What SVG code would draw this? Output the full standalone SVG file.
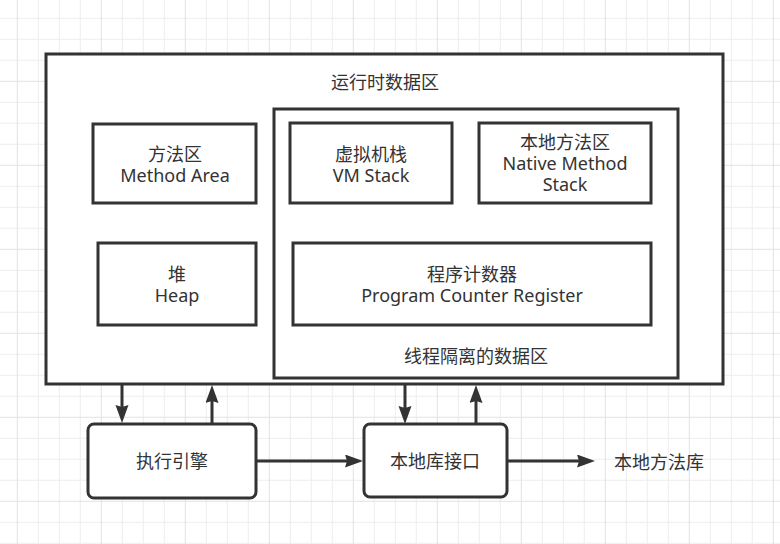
<svg xmlns="http://www.w3.org/2000/svg" width="780" height="544" viewBox="0 0 780 544">
<style>
.box{fill:#fff;stroke:#333;stroke-width:3}
.rbox{fill:#fff;stroke:#333;stroke-width:3}
.t{font-family:"Noto Sans","Noto Sans CJK SC",sans-serif;font-size:18px;fill:#333;text-anchor:middle}
.s{font-family:"Noto Sans","Noto Sans CJK SC",sans-serif;font-size:18px;fill:#333;text-anchor:start}
.c{fill:none;stroke:#333;stroke-width:3;marker-end:url(#ah)}
</style>
<defs>
<pattern id="grid" patternUnits="userSpaceOnUse" x="16.8" y="80.8" width="84" height="84">
<rect x="0" y="0" width="84" height="84" fill="#fff"/>
<rect x="21" y="0" width="1" height="84" fill="#ededed"/>
<rect x="42" y="0" width="1" height="84" fill="#ededed"/>
<rect x="63" y="0" width="1" height="84" fill="#ededed"/>
<rect x="0" y="21" width="84" height="1" fill="#ededed"/>
<rect x="0" y="42" width="84" height="1" fill="#ededed"/>
<rect x="0" y="63" width="84" height="1" fill="#ededed"/>
<rect x="0" y="0" width="1" height="84" fill="#e2e2e2"/>
<rect x="0" y="0" width="84" height="1" fill="#e2e2e2"/>
</pattern>
<marker id="ah" markerUnits="userSpaceOnUse" markerWidth="20" markerHeight="14" refX="2" refY="6.5" orient="auto">
<path d="M0,0 L18,6.5 L0,13 L2,6.5 Z" fill="#333"/>
</marker>
</defs>
<rect x="0" y="0" width="780" height="544" fill="url(#grid)"/>

<g id="runtime-data-area">
<rect class="box" x="46" y="54" width="677" height="330"/>
<text class="t" x="385" y="89">运行时数据区</text>
</g>
<g id="method-area">
<rect class="box" x="93" y="124" width="163" height="79"/>
<text class="t" x="175" y="161">方法区</text>
<text class="t" x="175" y="182">Method Area</text>
</g>
<g id="heap">
<rect class="box" x="98" y="243" width="158" height="82"/>
<text class="t" x="177" y="281">堆</text>
<text class="t" x="177" y="302">Heap</text>
</g>
<g id="thread-isolated">
<rect class="box" x="274" y="109" width="404" height="269"/>
<text class="t" x="476" y="363">线程隔离的数据区</text>
</g>
<g id="vm-stack">
<rect class="box" x="290" y="123" width="162" height="80"/>
<text class="t" x="371" y="161">虚拟机栈</text>
<text class="t" x="371" y="182">VM Stack</text>
</g>
<g id="native-method-stack">
<rect class="box" x="479" y="123" width="172" height="80"/>
<text class="t" x="565" y="149">本地方法区</text>
<text class="t" x="565" y="170">Native Method</text>
<text class="t" x="565" y="191">Stack</text>
</g>
<g id="pc-register">
<rect class="box" x="293" y="243" width="358" height="82"/>
<text class="t" x="472" y="281">程序计数器</text>
<text class="t" x="472" y="302">Program Counter Register</text>
</g>
<g id="execution-engine">
<rect class="rbox" x="88" y="424" width="168" height="74" rx="6"/>
<text class="t" x="172" y="468">执行引擎</text>
</g>
<g id="native-interface">
<rect class="rbox" x="364" y="424" width="143" height="73" rx="6"/>
<text class="t" x="435" y="468">本地库接口</text>
</g>
<g id="native-library">
<text class="s" x="614" y="469">本地方法库</text>
</g>

<g id="connectors">
<path class="c" d="M122,385 L122,407"/>
<path class="c" d="M212,423 L212,401"/>
<path class="c" d="M257,461 L347,461"/>
<path class="c" d="M405,385 L405,408"/>
<path class="c" d="M476,424 L476,401"/>
<path class="c" d="M507,461 L579,461"/>
</g>
</svg>
